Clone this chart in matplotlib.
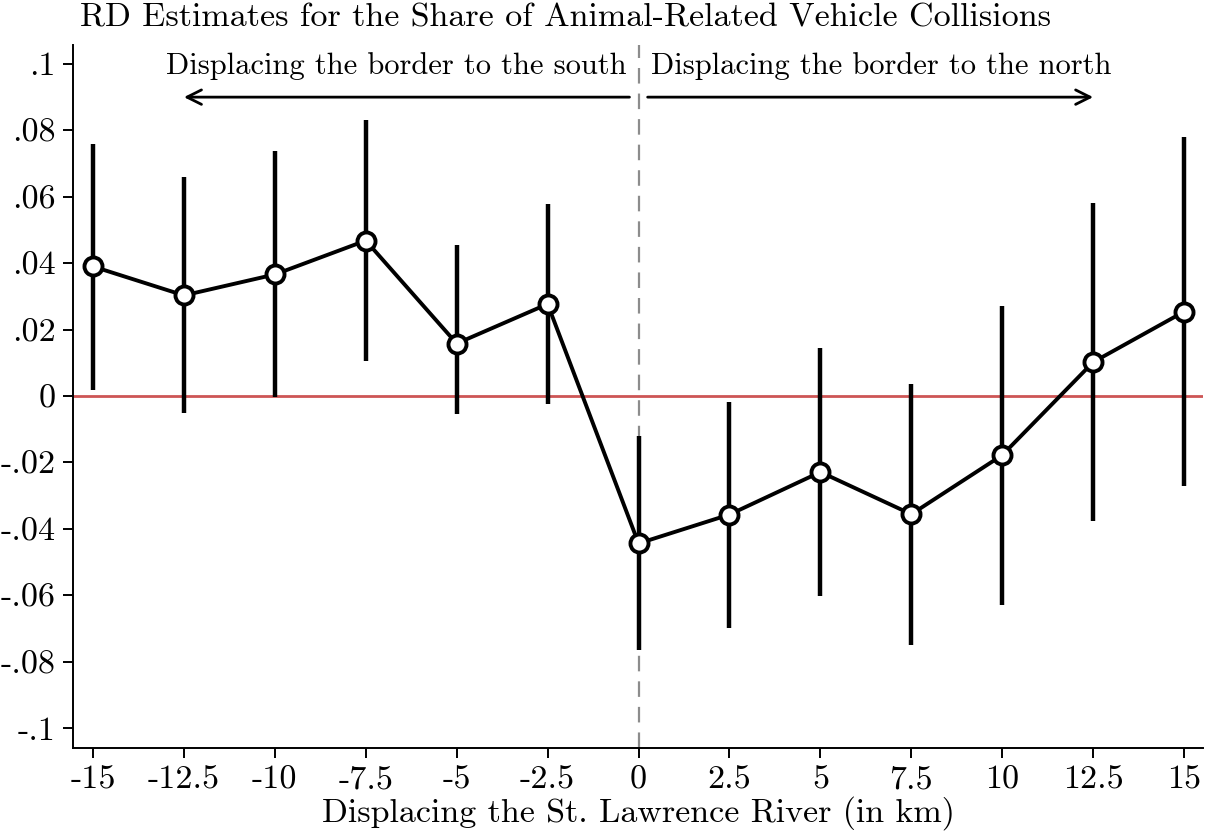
import matplotlib
matplotlib.use("Agg")
import matplotlib.pyplot as plt

plt.rcParams['font.family'] = 'cmr10'
plt.rcParams['mathtext.fontset'] = 'cm'
plt.rcParams['axes.unicode_minus'] = False

# Data
shifts = [-15, -12.5, -10, -7.5, -5, -2.5, 0, 2.5, 5, 7.5, 10, 12.5, 15]
estimates = [0.0390, 0.0303, 0.0366, 0.0468, 0.0158, 0.0277, -0.0444, -0.0357,
             -0.0229, -0.0356, -0.0178, 0.0102, 0.0254]
ci_low = [0.0018, -0.0050, -0.0004, 0.0106, -0.0054, -0.0025, -0.0766, -0.0699,
          -0.0602, -0.0749, -0.0629, -0.0377, -0.0271]
ci_high = [0.0759, 0.0658, 0.0739, 0.0830, 0.0456, 0.0578, -0.0121, -0.0018,
           0.0146, 0.0036, 0.0271, 0.0581, 0.0780]
xticks = [-15, -12.5, -10, -7.5, -5, -2.5, 0, 2.5, 5, 7.5, 10, 12.5, 15]
xticklabels = ['-15', '-12.5', '-10', '-7.5', '-5', '-2.5', '0', '2.5', '5', '7.5', '10', '12.5', '15']
yticks = [-0.1, -0.08, -0.06, -0.04, -0.02, 0, 0.02, 0.04, 0.06, 0.08, 0.1]
yticklabels = ['-.1', '-.08', '-.06', '-.04', '-.02', '0', '.02', '.04', '.06', '.08', '.1']
title = 'RD Estimates for the Share of Animal-Related Vehicle Collisions'
xlabel = 'Displacing the St. Lawrence River (in km)'
south_label = 'Displacing the border to the south'
north_label = 'Displacing the border to the north'

W, H = 1207, 838
fig = plt.figure(figsize=(W / 100, H / 100), dpi=100)
ax = fig.add_axes([73 / W, 1 - 748 / H, (1203 - 73) / W, (748 - 45) / H])

ax.set_xlim(-15.55, 15.52)
ax.set_ylim(-0.106, 0.1057)

# zero line and displacement line
ax.axhline(0, color='#cd5555', lw=2.0, zorder=1)
ax.axvline(0, color='#8c8c8c', lw=1.6, dashes=(7, 4.5), zorder=1)

# confidence intervals
ax.vlines(shifts, ci_low, ci_high, color='black', lw=3.2, zorder=2)
# estimates
ax.plot(shifts, estimates, color='black', lw=2.8, marker='o', ms=13,
        mfc='white', mec='black', mew=2.8, zorder=3)

# arrows and labels
ax.annotate('', xy=(-12.5, 0.090), xytext=(-0.25, 0.090),
            arrowprops=dict(arrowstyle='->', lw=2.0, color='black',
                            mutation_scale=26, shrinkA=0, shrinkB=0))
ax.annotate('', xy=(12.5, 0.090), xytext=(0.25, 0.090),
            arrowprops=dict(arrowstyle='->', lw=2.0, color='black',
                            mutation_scale=26, shrinkA=0, shrinkB=0))
ax.text(-0.33, 0.0995, south_label, ha='right', va='center', fontsize=22)
ax.text(0.33, 0.0995, north_label, ha='left', va='center', fontsize=22)

# axes styling
for s in ['top', 'right']:
    ax.spines[s].set_visible(False)
for s in ['left', 'bottom']:
    ax.spines[s].set_linewidth(1.4)
ax.set_xticks(xticks)
ax.set_xticklabels(xticklabels)
ax.set_yticks(yticks)
ax.set_yticklabels(yticklabels)
ax.tick_params(axis='both', direction='out', length=7.5, width=1.4, labelsize=24.5)
ax.tick_params(axis='y', pad=5)
ax.tick_params(axis='x', pad=5)
ax.set_xlabel(xlabel, fontsize=24.5, labelpad=1)

fig.text(80 / W, 1 - 18 / H, title, ha='left', va='center', fontsize=24.5)

fig.savefig('out.png', dpi=100, facecolor='white')
